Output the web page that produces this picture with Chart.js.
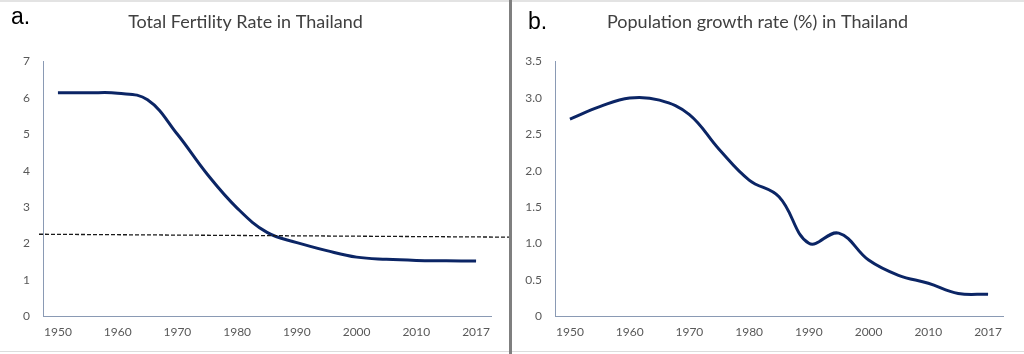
<!DOCTYPE html>
<html>
<head>
<meta charset="utf-8">
<script src="https://cdn.jsdelivr.net/npm/chart.js@4"></script>
<style>
  body { margin: 0; background: #fff; }
  #wrap { position: relative; width: 1024px; height: 354px; overflow: hidden; }
  canvas { position: absolute; top: 0; }
  #left { left: 0; }
  #right { left: 512px; }
  .sep { position: absolute; left: 509px; top: 0; width: 3px; height: 354px; background: #7f7f7f; }
  .topline { position: absolute; left: 0; top: 0; width: 1024px; height: 2px; background: #e3e3e3; }
  .botline { position: absolute; left: 0; top: 351px; width: 1024px; height: 1px; background: #dcdcdc; }
  .tag { position: absolute; font-family: "Liberation Sans", Arial, sans-serif; font-size: 23px; color: #000; }
</style>
</head>
<body>
<div id="wrap">
  <canvas id="left" width="509" height="354"></canvas>
  <canvas id="right" width="512" height="354"></canvas>
  <div class="topline"></div>
  <div class="botline"></div>
  <div class="sep"></div>
  <div class="tag" style="left:11px; top:3px;">a.</div>
  <div class="tag" style="left:528px; top:8px;">b.</div>
</div>
<script>
// 5-year points, last one 2017
const years = ["1950", "1955", "1960", "1965", "1970", "1975", "1980", "1985",
               "1990", "1995", "2000", "2005", "2010", "2015", "2017"];
const fertility = [6.14, 6.14, 6.13, 5.95, 5.0, 3.9, 2.97, 2.3, 2.02, 1.8, 1.62, 1.56, 1.53, 1.52, 1.51];
const growth = [2.71, 2.88, 3.0, 2.97, 2.77, 2.29, 1.87, 1.64, 1.0, 1.14, 0.77, 0.56, 0.45, 0.31, 0.3];
const replacement = [2.25, 2.17]; // dashed line, left end / right end
const tfrTicks = { max: 7, step: 1 };
const growthTicks = { max: 3.5, step: 0.5 };

const lineColor = "#0b2565";
const axisColor = "#8a9ab4";
const tickColor = "#595959";
const font = "Lato";

// dashed reference line, runs a bit past the axes
const refLinePlugin = {
    id: "refLine",
    afterDatasetsDraw(chart) {
        const y = chart.scales.y;
        const area = chart.chartArea;
        const ctx = chart.ctx;
        ctx.save();
        ctx.strokeStyle = "#1a1a1a";
        ctx.lineWidth = 1.3;
        ctx.setLineDash([4, 2]);
        ctx.beginPath();
        ctx.moveTo(area.left - 4, y.getPixelForValue(replacement[0]));
        ctx.lineTo(chart.width, y.getPixelForValue(replacement[1]));
        ctx.stroke();
        ctx.restore();
    }
};

function makeChart(id, title, values, yt, fmt, padRight, extra) {
    return new Chart(document.getElementById(id), {
        type: "line",
        data: {
            labels: years,
            datasets: [{
                data: values,
                borderColor: lineColor,
                borderWidth: 3,
                pointRadius: 0,
                tension: 0.4,
                fill: false
            }]
        },
        options: {
            responsive: false,
            animation: false,
            layout: { padding: { left: 0, right: padRight, top: 0, bottom: 0 } },
            plugins: {
                legend: { display: false },
                tooltip: { enabled: false },
                title: {
                    display: true,
                    text: title,
                    color: "#404040",
                    font: { family: font, size: 18, weight: "normal" },
                    padding: { top: 11, bottom: 29 }
                }
            },
            scales: {
                x: {
                    offset: true,
                    grid: { display: false, drawTicks: false },
                    border: { color: axisColor, width: 1 },
                    ticks: {
                        autoSkip: false,
                        maxRotation: 0,
                        color: tickColor,
                        font: { family: font, size: 12 },
                        padding: 9,
                        callback: (v, i) => (i % 2 === 0 ? years[i] : "")
                    },
                    afterFit: s => { s.height = 38; }
                },
                y: {
                    min: 0,
                    max: yt.max,
                    grid: { display: false, drawTicks: false },
                    border: { color: axisColor, width: 1 },
                    ticks: {
                        stepSize: yt.step,
                        color: tickColor,
                        font: { family: font, size: 12 },
                        padding: 13,
                        callback: fmt
                    },
                    afterFit: s => { s.width = 43; }
                }
            }
        },
        plugins: extra
    });
}

makeChart("left", "Total Fertility Rate in Thailand", fertility, tfrTicks,
    v => String(v), 18, [refLinePlugin]);
makeChart("right", "Population growth rate (%) in Thailand", growth, growthTicks,
    v => (v === 0 ? "0" : v.toFixed(1)), 21, []);
</script>
</body>
</html>
